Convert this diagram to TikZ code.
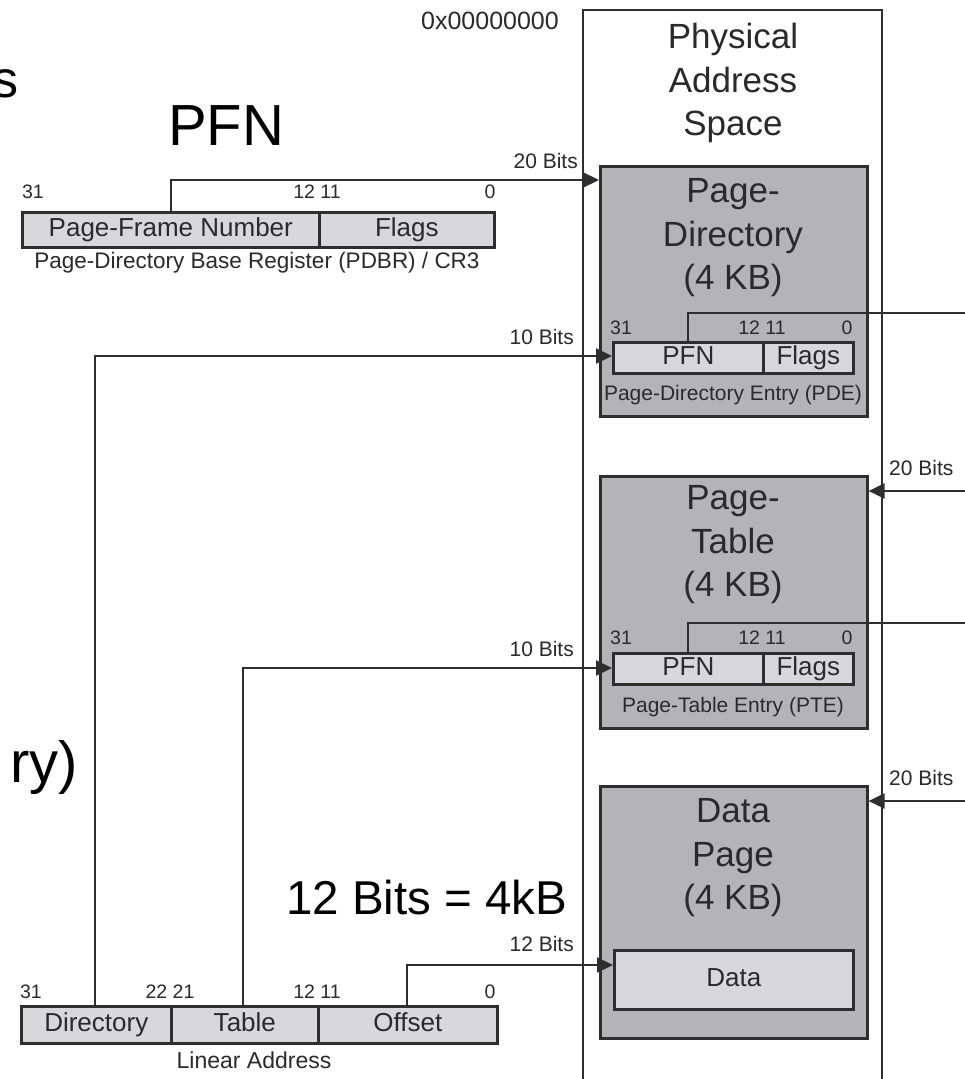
\documentclass[tikz,border=0pt]{standalone}
\usepackage{fontspec}
\setmainfont{Liberation Sans}
\usetikzlibrary{arrows.meta}
\definecolor{linec}{HTML}{2E2E2E}
\definecolor{txtc}{HTML}{2A2A2A}
\definecolor{boxgrey}{HTML}{B4B4B8}
\definecolor{fieldgrey}{HTML}{D8D8DB}
\newcommand{\fs}[1]{\fontsize{#1}{#1}\selectfont}
\begin{document}
\begin{tikzpicture}[x=1pt,y=-1pt,
  frame/.style={draw=linec,line width=2.6pt},
  greybox/.style={draw=linec,line width=2.6pt,fill=boxgrey,anchor=north west,inner sep=0pt},
  field/.style={draw=linec,line width=2.6pt,fill=fieldgrey,anchor=north west,inner sep=0pt,text=txtc,font=\fs{26},text height=18.5pt,text depth=5pt},
  conn/.style={draw=linec,line width=2.2pt},
  arr/.style={-{Triangle[length=16pt,width=15pt]}},
  small/.style={text=txtc,font=\fs{21},inner sep=0pt},
  num/.style={text=txtc,font=\fs{19.5},inner sep=0pt},
  title/.style={text=txtc,font=\fontsize{35}{43.5}\selectfont,align=center,inner sep=0pt},
  big/.style={text=black,inner sep=0pt}]
\useasboundingbox (0,0) rectangle (965,1079);
\fill[white] (0,0) rectangle (965,1079);

% physical address space frame
\draw[frame] (583,1085) -- (583,10) -- (882,10) -- (882,1085);
\node[text=txtc,font=\fs{25},inner sep=0pt] (zero) at (490,21) {0x00000000};
\node[title] (pas) at (733,83) {Physical\\Address\\Space};

% page directory
\node[greybox,minimum width=267pt,minimum height=250pt] (pd) at (599,165) {};
\node[title] (pdt) at (733,238) {Page-\\Directory\\(4 KB)};
\node[field,minimum width=150pt,minimum height=31pt] (pdeP) at (612,341) {PFN};
\node[field,minimum width=90pt,minimum height=31pt] (pdeF) at (762,341) {Flags};
\node[num] (pden1) at (621,328) {31};
\node[num] (pden2) at (762,328) {12 11};
\node[num] (pden3) at (847,328) {0};
\node[small] (pdecap) at (733,395) {Page-Directory Entry (PDE)};

% page table
\node[greybox,minimum width=267pt,minimum height=252pt] (pt) at (599,475) {};
\node[title] (ptt) at (733,545) {Page-\\Table\\(4 KB)};
\node[field,minimum width=150pt,minimum height=31pt] (pteP) at (612,652) {PFN};
\node[field,minimum width=90pt,minimum height=31pt] (pteF) at (762,652) {Flags};
\node[num] (pten1) at (621,638) {31};
\node[num] (pten2) at (762,638) {12 11};
\node[num] (pten3) at (847,638) {0};
\node[small] (ptecap) at (733,707) {Page-Table Entry (PTE)};

% data page
\node[greybox,minimum width=267pt,minimum height=252pt] (dp) at (599,785) {};
\node[title] (dpt) at (733,858) {Data\\Page\\(4 KB)};
\node[field,minimum width=239pt,minimum height=59pt] (datab) at (613,949) {Data};

% PDBR register
\node[field,minimum width=297pt,minimum height=35pt] (pfnA) at (21,211) {Page-Frame Number};
\node[field,minimum width=175pt,minimum height=35pt] (flagsA) at (318,211) {Flags};
\node[num] (rn1) at (33,192) {31};
\node[num] (rn2) at (317,192) {12 11};
\node[num] (rn3) at (490,192) {0};
\node[small,font=\fs{22.5}] (rcap) at (257,263) {Page-Directory Base Register (PDBR) / CR3};

% linear address
\node[field,minimum width=150pt,minimum height=37pt] (dir) at (20,1005) {Directory};
\node[field,minimum width=147pt,minimum height=37pt] (tab) at (170,1005) {Table};
\node[field,minimum width=179pt,minimum height=37pt] (ofs) at (317,1005) {Offset};
\node[num] (ln1) at (31,992) {31};
\node[num] (ln2) at (170,992) {22 21};
\node[num] (ln3) at (317,992) {12 11};
\node[num] (ln4) at (490,992) {0};
\node[small,font=\fs{23}] (lcap) at (254,1060) {Linear Address};

% connector coordinates
\coordinate (c1) at (171,180);
\coordinate (c2) at (95,356);
\coordinate (c3) at (243,668);
\coordinate (c4) at (407,965);
\coordinate (c5) at (688,313);
\coordinate (c6) at (688,623);
\coordinate (o5) at (967,313);
\coordinate (o6) at (967,623);
\coordinate (i1) at (967,491);
\coordinate (i2) at (967,801);

% connectors
\draw[conn,arr] (pfnA.north -| c1) -- (c1) -- (c1 -| pd.west);
\draw[conn,arr] (dir.north -| c2) -- (c2) -- (c2 -| pdeP.west);
\draw[conn,arr] (tab.north -| c3) -- (c3) -- (c3 -| pteP.west);
\draw[conn,arr] (ofs.north -| c4) -- (c4) -- (c4 -| datab.west);
\draw[conn] (pdeP.north -| c5) -- (c5) -- (o5);
\draw[conn] (pteP.north -| c6) -- (c6) -- (o6);
\draw[conn,arr] (i1) -- (i1 -| pt.east);
\draw[conn,arr] (i2) -- (i2 -| dp.east);

% connector labels
\node[small,anchor=east] (l20a) at (578,161) {20 Bits};
\node[small,anchor=east] (l10a) at (574,337) {10 Bits};
\node[small,anchor=east] (l10b) at (574,649) {10 Bits};
\node[small,anchor=east] (l12) at (574,944) {12 Bits};
\node[small,anchor=west] (l20b) at (889,468) {20 Bits};
\node[small,anchor=west] (l20c) at (889,778) {20 Bits};

% large overlay texts
\node[big,font=\fs{52},anchor=base east] (bs) at (19,97) {s};
\node[big,font=\fs{58},anchor=base west] (bpfn) at (168,145) {PFN};
\node[big,font=\fs{58},anchor=base east] (bry) at (78,782) {ry)};
\node[big,font=\fs{47.5},anchor=base west] (b12) at (286,914) {12 Bits = 4kB};
\end{tikzpicture}
\end{document}
